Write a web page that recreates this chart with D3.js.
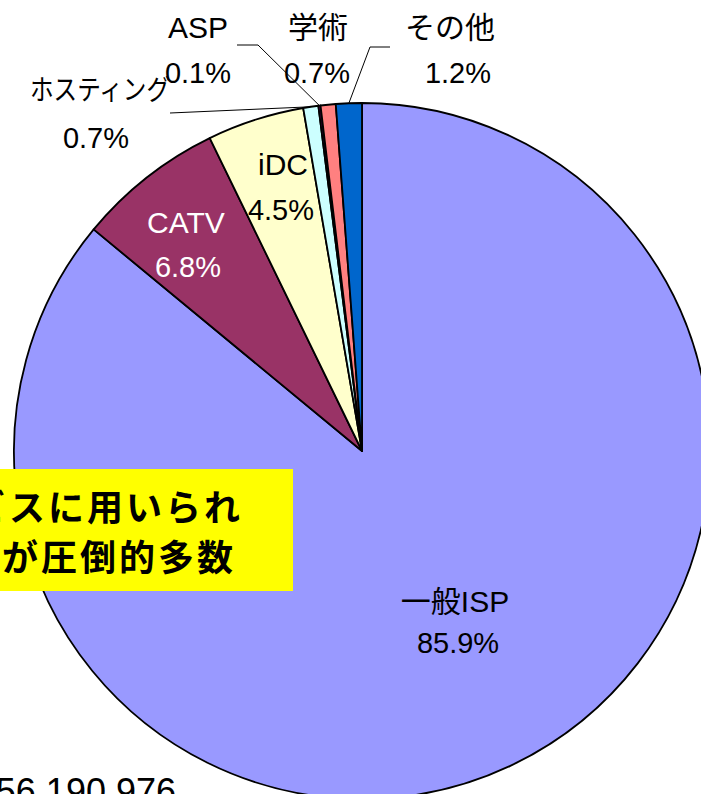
<!DOCTYPE html>
<html>
<head>
<meta charset="utf-8">
<script src="https://cdn.jsdelivr.net/npm/d3@7"></script>
<style>
  html, body { margin: 0; padding: 0; background: #fff; }
  svg { display: block; }
</style>
</head>
<body>
<svg id="chart" width="701" height="794"></svg>
<script>
// slices in clockwise order from 12 o'clock
const categories = ["一般ISP", "CATV", "iDC", "ホスティング", "ASP", "学術", "その他"]
const shares = [85.9, 6.8, 4.5, 0.7, 0.1, 0.7, 1.2]
const pctLabels = ["85.9%", "6.8%", "4.5%", "0.7%", "0.1%", "0.7%", "1.2%"]
const colors = ["#9999ff", "#993366", "#ffffcc", "#ccffff", "#660066", "#ff8080", "#0066cc"]
const calloutLines = ["サービスに用いられ", "ているものが圧倒的多数"]
const totalText = "156,190,976"

// label placement (name x,y / percent x,y), leader elbow if any
const labelPos = {
  "一般ISP":   {nx: 455, ny: 612, px: 458, py: 653},
  "CATV":     {nx: 186, ny: 233, px: 188, py: 277, fill: "#fff"},
  "iDC":      {nx: 283, ny: 175, px: 281, py: 220},
  "ホスティング": {nx: 100, ny: 100, px: 96, py: 148, len: 140, leader: [[170, 113]]},
  "ASP":      {nx: 198, ny: 38, px: 198, py: 83, leader: [[237, 45], [258, 45]]},
  "学術":      {nx: 318, ny: 38, px: 317, py: 83},
  "その他":    {nx: 450, ny: 38, px: 458, py: 83, leader: [[390, 47], [370, 47]]}
}

let
  cx = 362,
  cy = 451,
  radius = 348

var svg = d3.select("#chart")
var font = "'Liberation Sans', 'Noto Sans CJK JP', sans-serif"

var pie = d3.pie().sort(null).value(d => d.value)
var arcs = pie(categories.map((c, i) => ({name: c, value: shares[i], color: colors[i], pct: pctLabels[i]})))

var arc = d3.arc().innerRadius(0).outerRadius(radius)
var edge = d3.arc().innerRadius(radius).outerRadius(radius)

var g = svg.append("g").attr("transform", `translate(${cx},${cy})`)

g.selectAll(".slice")
  .data(arcs)
  .enter()
  .append("path")
  .attr("class", "slice")
  .attr("d", arc)
  .attr("fill", d => d.data.color)
  .attr("stroke", "#000")
  .attr("stroke-width", 1.8)
  .attr("stroke-linejoin", "round")

// leader lines
var line = d3.line()
arcs.forEach(d => {
  var p = labelPos[d.data.name]
  if (!p.leader) return
  var c = edge.centroid(d)
  var pts = p.leader.concat([[c[0] + cx, c[1] + cy]])
  svg.append("path")
    .attr("d", line(pts))
    .attr("fill", "none")
    .attr("stroke", "#000")
    .attr("stroke-width", 1)
})

// labels
arcs.forEach(d => {
  var p = labelPos[d.data.name]
  var fill = p.fill || "#000"
  var name = svg.append("text")
    .attr("x", p.nx)
    .attr("y", p.ny)
    .attr("text-anchor", "middle")
    .attr("font-family", font)
    .attr("font-size", 30)
    .attr("fill", fill)
    .text(d.data.name)
  if (p.len) name.attr("textLength", p.len).attr("lengthAdjust", "spacingAndGlyphs").attr("font-size", 28)
  svg.append("text")
    .attr("x", p.px)
    .attr("y", p.py)
    .attr("text-anchor", "middle")
    .attr("font-family", font)
    .attr("font-size", 29)
    .attr("fill", fill)
    .text(d.data.pct)
})

// yellow callout, cut off at the left edge
svg.append("rect")
  .attr("x", -400)
  .attr("y", 469)
  .attr("width", 693)
  .attr("height", 122)
  .attr("fill", "#ffff00")

var ends = [243, 236]
calloutLines.forEach((t, i) => {
  svg.append("text")
    .attr("x", ends[i])
    .attr("y", 521 + i * 50)
    .attr("text-anchor", "end")
    .attr("font-family", "'Noto Sans CJK JP', sans-serif")
    .attr("font-weight", "bold")
    .attr("font-size", 36)
    .style("letter-spacing", "3px")
    .attr("fill", "#000")
    .text(t)
})

svg.append("text")
  .attr("x", 176)
  .attr("y", 804)
  .attr("text-anchor", "end")
  .attr("font-family", font)
  .attr("font-size", 36)
  .attr("fill", "#000")
  .text(totalText)
</script>
</body>
</html>
